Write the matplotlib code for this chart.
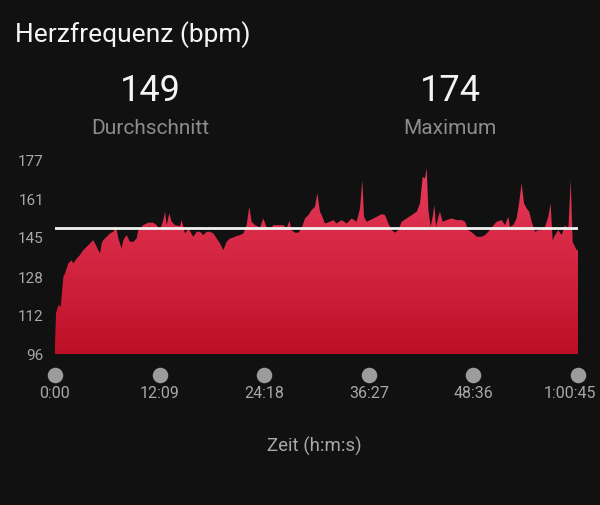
import matplotlib
matplotlib.use("Agg")
import matplotlib.pyplot as plt
import numpy as np
from matplotlib.patches import Polygon

# heart rate samples (time in minutes, bpm)
t_min = [0.0, 0.12, 0.39, 0.66, 0.97, 1.16, 1.55, 1.94, 2.13, 2.52, 2.90, 3.29, 3.68,
         4.07, 4.45, 4.84, 5.23, 5.42, 5.61, 6.00, 6.39, 6.78, 7.09, 7.36, 7.74, 7.94,
         8.32, 8.71, 9.10, 9.49, 9.68, 10.26, 10.84, 11.42, 11.81, 12.20, 12.58, 12.78,
         12.97, 13.28, 13.55, 13.94, 14.52, 14.71, 15.10, 15.49, 16.07, 16.46, 16.84,
         17.23, 17.62, 18.00, 18.39, 18.78, 19.17, 19.55, 19.94, 20.33, 20.71, 21.10,
         21.49, 21.88, 22.26, 22.57, 22.84, 23.23, 23.81, 24.20, 24.59, 24.97, 25.36,
         25.75, 26.52, 26.91, 27.22, 27.49, 27.88, 28.26, 28.65, 29.04, 29.43, 29.81,
         30.20, 30.47, 30.78, 30.98, 31.36, 31.94, 32.33, 32.72, 33.30, 33.88, 34.46,
         35.04, 35.43, 35.70, 35.89, 36.20, 36.79, 37.37, 37.95, 38.33, 38.72, 39.11,
         39.50, 39.88, 40.27, 40.85, 41.43, 42.01, 42.40, 42.71, 42.98, 43.17, 43.37,
         43.64, 43.87, 44.07, 44.26, 44.53, 44.72, 45.03, 45.50, 46.08, 46.66, 47.24,
         47.63, 48.01, 48.59, 48.98, 49.56, 49.95, 50.33, 50.72, 51.30, 51.89, 52.27,
         52.66, 52.85, 53.24, 53.62, 53.93, 54.20, 54.48, 54.79, 55.09, 55.37, 55.76,
         56.14, 56.53, 56.92, 57.30, 57.57, 57.81, 58.08, 58.46, 58.85, 59.24, 59.63,
         59.90, 60.13, 60.40, 60.59, 60.75]
bpm = [100.0, 113.1, 116.5, 115.8, 128.4, 129.8, 134.0, 135.4, 134.0, 136.1, 137.5, 139.6, 141.0,
       142.4, 143.8, 141.0, 138.2, 142.4, 143.8, 145.2, 146.6, 147.3, 149.7, 144.5, 140.3, 143.8,
       145.9, 143.1, 143.1, 144.5, 148.0, 150.1, 151.1, 151.1, 150.1, 148.0, 152.2, 155.7,
       150.1, 155.0, 151.5, 150.1, 149.7, 152.2, 146.6, 148.7, 145.2, 147.3, 147.3,
       145.9, 147.3, 147.3, 146.6, 144.5, 142.4, 139.6, 143.1, 144.5, 144.9, 145.5,
       145.9, 146.6, 150.1, 157.8, 151.5, 150.1, 149.1, 152.9, 149.1, 148.0, 150.1,
       150.1, 150.1, 148.7, 151.9, 148.0, 146.9, 146.9, 148.7, 152.9, 154.3, 156.4,
       157.8, 163.4, 155.7, 154.3, 150.8, 151.5, 152.2, 150.8, 152.2, 150.8, 152.9,
       151.5, 157.1, 169.0, 153.6, 151.5, 152.5, 153.6, 154.7, 154.3, 150.8, 148.0,
       146.9, 148.0, 151.5, 152.9, 154.3, 155.7, 159.2, 170.3, 169.7, 174.0, 156.4,
       149.4, 153.6, 158.5, 149.4, 153.6, 155.7, 151.5, 152.2, 152.9, 152.2, 152.2,
       151.5, 148.0, 146.6, 145.2, 145.2, 145.9, 147.3, 149.1, 151.5, 152.2, 150.1,
       153.6, 149.4, 150.1, 152.9, 159.9, 167.6, 159.2, 157.1, 155.7, 151.5, 147.3,
       148.0, 148.0, 149.4, 153.6, 159.2, 143.8, 145.9, 148.0, 145.9, 150.1, 148.0,
       169.0, 143.1, 141.0, 139.6, 139.6]

avg_bpm = 149
max_bpm = 174
y_ticks = [96, 112, 128, 145, 161, 177]
x_ticks = [0, 12.15, 24.3, 36.45, 48.6, 60.75]
x_labels = ["0:00", "12:09", "24:18", "36:27", "48:36", "1:00:45"]

bg = "#111111"
font = ["Roboto", "DejaVu Sans"]

fig = plt.figure(figsize=(6, 5.05), dpi=100, facecolor=bg)
ax = fig.add_axes([55 / 600, 1 - 354 / 505, 523 / 600, 193 / 505])
ax.set_facecolor(bg)
ax.set_xlim(0, 60.75)
ax.set_ylim(96, 177)

# gradient fill clipped by the area polygon
verts = [(t_min[0], 96)] + list(zip(t_min, bpm)) + [(t_min[-1], 96)]
poly = Polygon(verts, closed=True, facecolor="none", edgecolor="none")
ax.add_patch(poly)
grad = np.linspace(0, 1, 256).reshape(-1, 1)
cmap = matplotlib.colors.LinearSegmentedColormap.from_list("hr", ["#bd1026", "#ea3c5e"])
im = ax.imshow(grad, cmap=cmap, aspect="auto", origin="lower",
               extent=[0, 60.75, 96, 177], zorder=1)
im.set_clip_path(poly)

ax.axhline(avg_bpm, color="#f2f2f2", lw=2, zorder=3)

for s in ax.spines.values():
    s.set_visible(False)
ax.set_yticks(y_ticks)
ax.set_yticklabels([str(v) for v in y_ticks], fontfamily=font, fontsize=11, color="#a8a8a8")
ax.tick_params(axis="y", length=0, pad=8)
ax.set_xticks([])

# x axis: grey dots with labels below
trans = matplotlib.transforms.blended_transform_factory(ax.transData, fig.transFigure)
ax.scatter(x_ticks, [1 - 375 / 505] * len(x_ticks), s=125, color="#9c9c9c",
           transform=trans, clip_on=False, zorder=5, linewidths=0)
for xt, lab in zip(x_ticks[:-1], x_labels[:-1]):
    ax.text(xt, 1 - 394 / 505, lab, transform=trans, ha="center", va="center",
            fontfamily=font, fontsize=11.5, color="#a8a8a8")
# last label is pushed left so it stays inside the frame
fig.text(596 / 600, 1 - 394 / 505, x_labels[-1], ha="right", va="center",
         fontfamily=font, fontsize=11.5, color="#a8a8a8")

fig.text(314 / 600, 1 - 446 / 505, "Zeit (h:m:s)", ha="center", va="center",
         fontfamily=font, fontsize=13.4, color="#a8a8a8")

fig.text(15 / 600, 1 - 35 / 505, "Herzfrequenz (bpm)", ha="left", va="center",
         fontfamily=font, fontsize=19, color="#f4f4f4")
fig.text(150 / 600, 1 - 91 / 505, str(avg_bpm), ha="center", va="center",
         fontfamily=font, fontsize=26, color="#f4f4f4")
fig.text(150 / 600, 1 - 128 / 505, "Durchschnitt", ha="center", va="center",
         fontfamily=font, fontsize=15, color="#8c8c8c")
fig.text(450 / 600, 1 - 91 / 505, str(max_bpm), ha="center", va="center",
         fontfamily=font, fontsize=26, color="#f4f4f4")
fig.text(450 / 600, 1 - 128 / 505, "Maximum", ha="center", va="center",
         fontfamily=font, fontsize=15, color="#8c8c8c")

fig.savefig("out.png", dpi=100, facecolor=bg)
